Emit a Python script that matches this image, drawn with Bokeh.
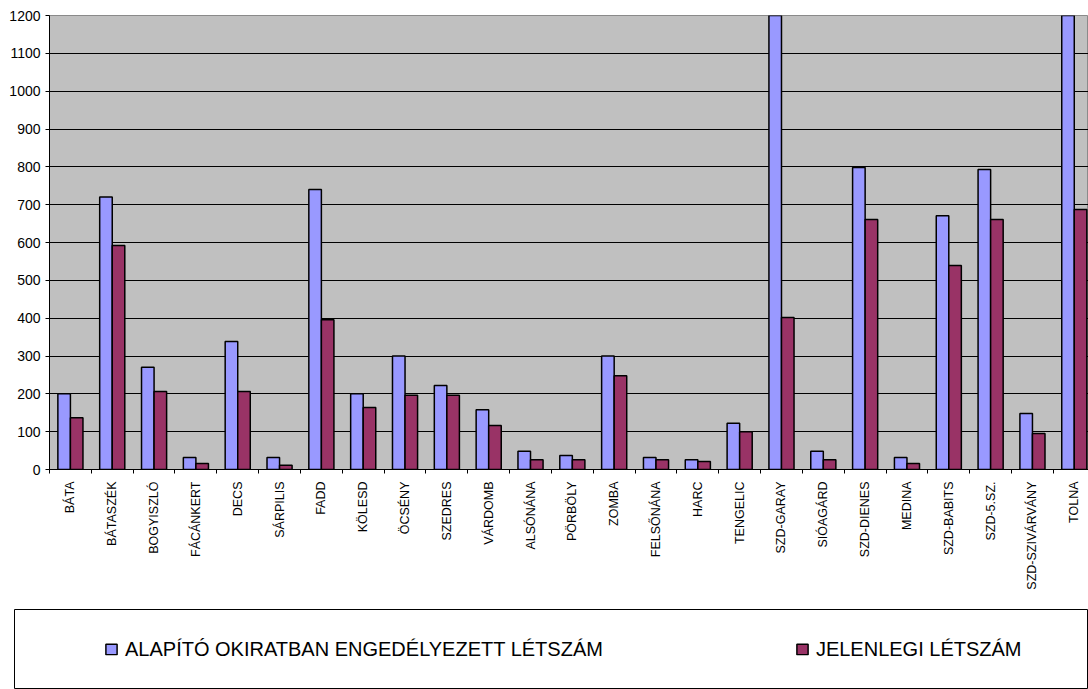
import numpy as np
from bokeh.plotting import figure
from bokeh.layouts import column, row
from bokeh.models import Range1d, FixedTicker, Legend, LegendItem, ColumnDataSource
from bokeh.embed import file_html
from bokeh.resources import INLINE

categories = ["BÁTA", "BÁTASZÉK", "BOGYISZLÓ", "FÁCÁNKERT", "DECS", "SÁRPILIS", "FADD",
              "KÖLESD", "ÖCSÉNY", "SZEDRES", "VÁRDOMB", "ALSÓNÁNA", "PÖRBÖLY", "ZOMBA",
              "FELSŐNÁNA", "HARC", "TENGELIC", "SZD-GARAY", "SIÓAGÁRD", "SZD-DIENES",
              "MEDINA", "SZD-BABITS", "SZD-5.SZ.", "SZD-SZIVÁRVÁNY", "TOLNA"]
engedelyezett = [200, 720, 270, 32, 338, 32, 740, 200, 300, 222, 158, 48, 37, 300, 32, 26,
                 122, 1200, 48, 798, 32, 671, 793, 148, 1200]
jelenlegi = [137, 592, 206, 16, 206, 11, 396, 164, 196, 196, 116, 26, 26, 248, 26, 21,
             100, 402, 26, 661, 16, 539, 661, 95, 687]
series_names = ["ALAPÍTÓ OKIRATBAN ENGEDÉLYEZETT LÉTSZÁM", "JELENLEGI LÉTSZÁM"]
series_colors = ["#9999FF", "#993366"]
y_ticks = [0, 100, 200, 300, 400, 500, 600, 700, 800, 900, 1000, 1100, 1200]

n = len(categories)
centers = np.arange(n) + 0.5
src = ColumnDataSource(dict(x1=centers - 0.15, x2=centers + 0.15,
                            a=engedelyezett, b=jelenlegi))

FONT = "Liberation Sans"

# ---- main chart ----
p = figure(width=1088, height=609, output_backend="svg", toolbar_location=None,
           x_range=Range1d(0, n - 0.16), y_range=Range1d(0, 1200),
           min_border_left=49, min_border_right=0, min_border_top=15, min_border_bottom=140)
p.background_fill_color = "#C0C0C0"
p.border_fill_color = "white"
p.outline_line_color = "#8A8A8A"
p.outline_line_width = 1

p.vbar(x="x1", top="a", width=0.3, source=src, fill_color=series_colors[0],
       line_color="black", line_width=1.5)
p.vbar(x="x2", top="b", width=0.3, source=src, fill_color=series_colors[1],
       line_color="black", line_width=1.5)

yax = p.yaxis[0]
yax.ticker = FixedTicker(ticks=y_ticks)
yax.axis_line_color = "black"
yax.major_tick_line_color = "black"
yax.major_tick_out = 4
yax.major_tick_in = 0
yax.minor_tick_line_color = None
yax.major_label_text_font = FONT
yax.major_label_text_font_size = "14px"
yax.major_label_text_color = "black"
yax.major_label_standoff = 5

xax = p.xaxis[0]
xax.ticker = FixedTicker(ticks=list(centers), minor_ticks=list(range(n + 1)))
xax.major_label_overrides = {float(c): name for c, name in zip(centers, categories)}
xax.major_label_orientation = np.pi / 2
xax.axis_line_color = "black"
xax.major_tick_line_color = None
xax.major_tick_out = 0
xax.major_tick_in = 0
xax.minor_tick_line_color = "black"
xax.minor_tick_out = 4
xax.minor_tick_in = 0
xax.major_label_text_font = FONT
xax.major_label_text_font_size = "12.5px"
xax.major_label_text_color = "black"
xax.major_label_standoff = 8

p.xgrid.grid_line_color = None
p.ygrid.ticker = FixedTicker(ticks=y_ticks[1:-1])
p.ygrid.grid_line_color = "black"
p.ygrid.grid_line_width = 1

# ---- legend panel (boxed) ----
pl = figure(width=1088, height=80, output_backend="svg", toolbar_location=None,
            x_axis_location=None, y_axis_location=None,
            x_range=Range1d(0, 1), y_range=Range1d(-10, -9),
            min_border_left=14, min_border_right=0, min_border_top=0, min_border_bottom=0)
pl.grid.grid_line_color = None
pl.background_fill_color = "white"
pl.border_fill_color = "white"
pl.outline_line_color = "black"
pl.outline_line_width = 1

proxies = [pl.vbar(x=xc, top=yc, width=0.3, source=src, fill_color=c, line_color="black",
                   line_width=1.5, visible=False)
           for xc, yc, c in zip(["x1", "x2"], ["a", "b"], series_colors)]

legend = Legend(items=[LegendItem(label=nm, renderers=[r]) for nm, r in zip(series_names, proxies)],
                location="left", orientation="horizontal", margin=90,
                glyph_width=14, glyph_height=13, label_standoff=7, spacing=192,
                padding=10, border_line_color=None, background_fill_alpha=0,
                label_text_font=FONT, label_text_font_size="20px",
                label_text_color="black")
pl.add_layout(legend, "center")

layout = column(p, row(pl, spacing=0), spacing=0)
open("out.html", "w").write(file_html(layout, INLINE))
